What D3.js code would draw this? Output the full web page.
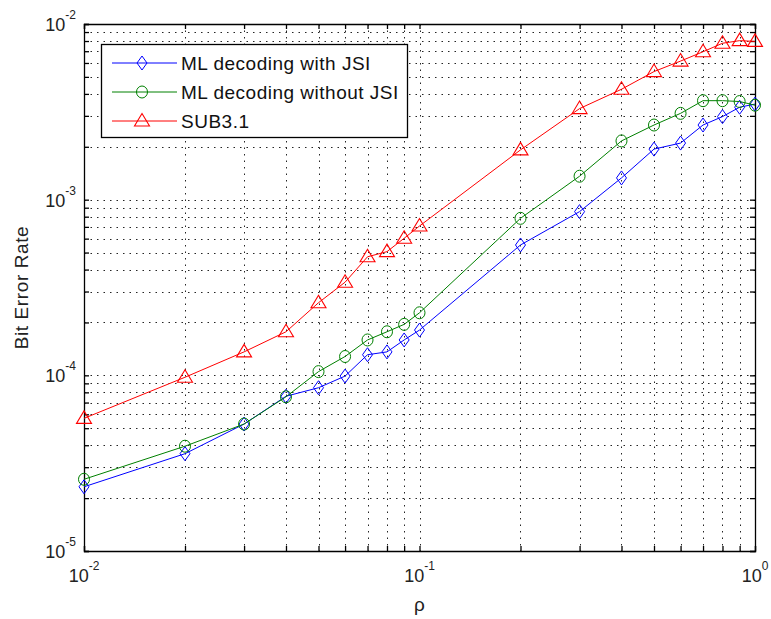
<!DOCTYPE html>
<html>
<head>
<meta charset="utf-8">
<script src="https://cdn.jsdelivr.net/npm/d3@7"></script>
<style>
  html, body { margin: 0; padding: 0; background: #fff; }
  svg { display: block; font-family: "Liberation Sans", Arial, sans-serif; }
</style>
</head>
<body>
<svg id="chart" width="771" height="619"></svg>
<script>
// ---- data ----
const rho = [0.01, 0.02, 0.03, 0.04, 0.05, 0.06, 0.07, 0.08, 0.09, 0.1,
             0.2, 0.3, 0.4, 0.5, 0.6, 0.7, 0.8, 0.9, 1.0];
const berWithJSI = [2.32e-5, 3.58e-5, 5.28e-5, 7.6e-5, 8.5e-5, 9.9e-5, 1.31e-4, 1.36e-4, 1.59e-4, 1.81e-4,
                    5.52e-4, 8.55e-4, 1.33e-3, 1.94e-3, 2.10e-3, 2.66e-3, 2.97e-3, 3.36e-3, 3.50e-3];
const berWithoutJSI = [2.56e-5, 3.95e-5, 5.28e-5, 7.55e-5, 1.05e-4, 1.28e-4, 1.59e-4, 1.77e-4, 1.95e-4, 2.27e-4,
                       7.83e-4, 1.36e-3, 2.16e-3, 2.66e-3, 3.10e-3, 3.66e-3, 3.66e-3, 3.62e-3, 3.45e-3];
const berSUB31 = [5.69e-5, 9.75e-5, 1.36e-4, 1.77e-4, 2.59e-4, 3.39e-4, 4.73e-4, 5.06e-4, 6.03e-4, 7.08e-4,
                  1.92e-3, 3.30e-3, 4.25e-3, 5.36e-3, 6.15e-3, 6.95e-3, 7.77e-3, 8.04e-3, 7.96e-3];
const seriesNames = ["ML decoding with JSI", "ML decoding without JSI", "SUB3.1"];
const xMajorExp = [-2, -1, 0];
const yMajorExp = [-5, -4, -3, -2];
const xLabel = "ρ";
const yLabel = "Bit Error Rate";

// ---- layout ----
const L = 84, R = 755, T = 24, B = 551;
const svg = d3.select("#chart");
const x = d3.scaleLog().domain([0.01, 1]).range([L, R]);
const y = d3.scaleLog().domain([1e-5, 1e-2]).range([B, T]);

// all tick values (major + minor)
function logTicks(lo, hi) {
  const out = [];
  for (let e = lo; e < hi; e++) for (let m = 1; m < 10; m++) out.push(m * Math.pow(10, e));
  out.push(Math.pow(10, hi));
  return out;
}
const xTicks = logTicks(-2, 0);
const yTicks = logTicks(-5, -2);

// grid
const grid = svg.append("g").attr("stroke", "#000").attr("stroke-width", 1)
  .attr("stroke-dasharray", "1.5,5").attr("opacity", 0.85);
grid.selectAll(".gx").data(xTicks.filter(v => v > 0.01 && v < 1)).join("line")
  .attr("x1", d => Math.round(x(d)) + 0.5).attr("x2", d => Math.round(x(d)) + 0.5)
  .attr("y1", T).attr("y2", B);
grid.selectAll(".gy").data(yTicks.filter(v => v > 1e-5 && v < 1e-2)).join("line")
  .attr("y1", d => Math.round(y(d)) + 0.5).attr("y2", d => Math.round(y(d)) + 0.5)
  .attr("x1", L).attr("x2", R);

// axes with inward ticks on all four sides
const tk = 5;
svg.append("g").attr("transform", `translate(0,${B})`)
  .call(d3.axisBottom(x).tickValues(xTicks).tickSize(-tk).tickFormat(""));
svg.append("g").attr("transform", `translate(0,${T})`)
  .call(d3.axisTop(x).tickValues(xTicks).tickSize(-tk).tickFormat(""));
svg.append("g").attr("transform", `translate(${L},0)`)
  .call(d3.axisLeft(y).tickValues(yTicks).tickSize(-tk).tickFormat(""));
svg.append("g").attr("transform", `translate(${R},0)`)
  .call(d3.axisRight(y).tickValues(yTicks).tickSize(-tk).tickFormat(""));
svg.selectAll(".domain").attr("stroke", "#000").attr("stroke-width", 1.3);
svg.selectAll(".tick line").attr("stroke", "#000").attr("stroke-width", 1.3);

// tick labels with superscripts
const xl = svg.append("g").attr("fill", "#222");
xMajorExp.forEach(e => {
  const t = xl.append("text").attr("x", x(Math.pow(10, e))).attr("y", 582)
    .attr("text-anchor", "middle").attr("font-size", 18);
  t.append("tspan").text("10");
  t.append("tspan").attr("font-size", 12).attr("dy", -12).text(String(e));
});
yMajorExp.forEach(e => {
  const t = xl.append("text").attr("x", 76).attr("y", y(Math.pow(10, e)) + 7)
    .attr("text-anchor", "end").attr("font-size", 18);
  t.append("tspan").text("10");
  t.append("tspan").attr("font-size", 12).attr("dy", -12).text(String(e));
});

// axis titles
svg.append("text").attr("x", (L + R) / 2).attr("y", 611).attr("text-anchor", "middle")
  .attr("font-size", 19).attr("fill", "#222").text(xLabel);
svg.append("text").attr("transform", `translate(28,${(T + B) / 2}) rotate(-90)`)
  .attr("text-anchor", "middle").attr("font-size", 19).attr("letter-spacing", 0.6)
  .attr("fill", "#222").text(yLabel);

// markers
function drawMarker(g, type, cx, cy, color) {
  if (type === "diamond") {
    g.append("path").attr("d", `M${cx},${cy - 7}L${cx + 5},${cy}L${cx},${cy + 7}L${cx - 5},${cy}Z`)
      .attr("fill", "none").attr("stroke", color).attr("stroke-width", 1);
  } else if (type === "circle") {
    g.append("ellipse").attr("cx", cx).attr("cy", cy).attr("rx", 5.5).attr("ry", 6)
      .attr("fill", "none").attr("stroke", color).attr("stroke-width", 1);
  } else {
    g.append("path").attr("d", `M${cx},${cy - 7.5}L${cx + 7.5},${cy + 5}L${cx - 7.5},${cy + 5}Z`)
      .attr("fill", "none").attr("stroke", color).attr("stroke-width", 1.1);
  }
}

const series = [
  { name: seriesNames[0], values: berWithJSI, color: "#0000ff", marker: "diamond" },
  { name: seriesNames[1], values: berWithoutJSI, color: "#008000", marker: "circle" },
  { name: seriesNames[2], values: berSUB31, color: "#ff0000", marker: "triangle" }
];
const line = d3.line().x(d => x(d[0])).y(d => y(d[1]));
series.forEach(s => {
  const pts = rho.map((r, i) => [r, s.values[i]]);
  const g = svg.append("g");
  g.append("path").datum(pts).attr("d", line).attr("fill", "none")
    .attr("stroke", s.color).attr("stroke-width", 1);
  pts.forEach(p => drawMarker(g, s.marker, x(p[0]), y(p[1]), s.color));
});

// legend
const lg = svg.append("g");
lg.append("rect").attr("x", 101.5).attr("y", 44.5).attr("width", 306).attr("height", 93)
  .attr("fill", "#fff").attr("stroke", "#000").attr("stroke-width", 1.3);
series.forEach((s, i) => {
  const cy = 63 + i * 29;
  lg.append("line").attr("x1", 112).attr("x2", 177).attr("y1", cy).attr("y2", cy)
    .attr("stroke", s.color).attr("stroke-width", 1);
  drawMarker(lg, s.marker, 142, cy, s.color);
  lg.append("text").attr("x", 181).attr("y", cy + 7).attr("font-size", 19)
    .attr("letter-spacing", 0.5).attr("fill", "#111").text(s.name);
});
</script>
</body>
</html>
